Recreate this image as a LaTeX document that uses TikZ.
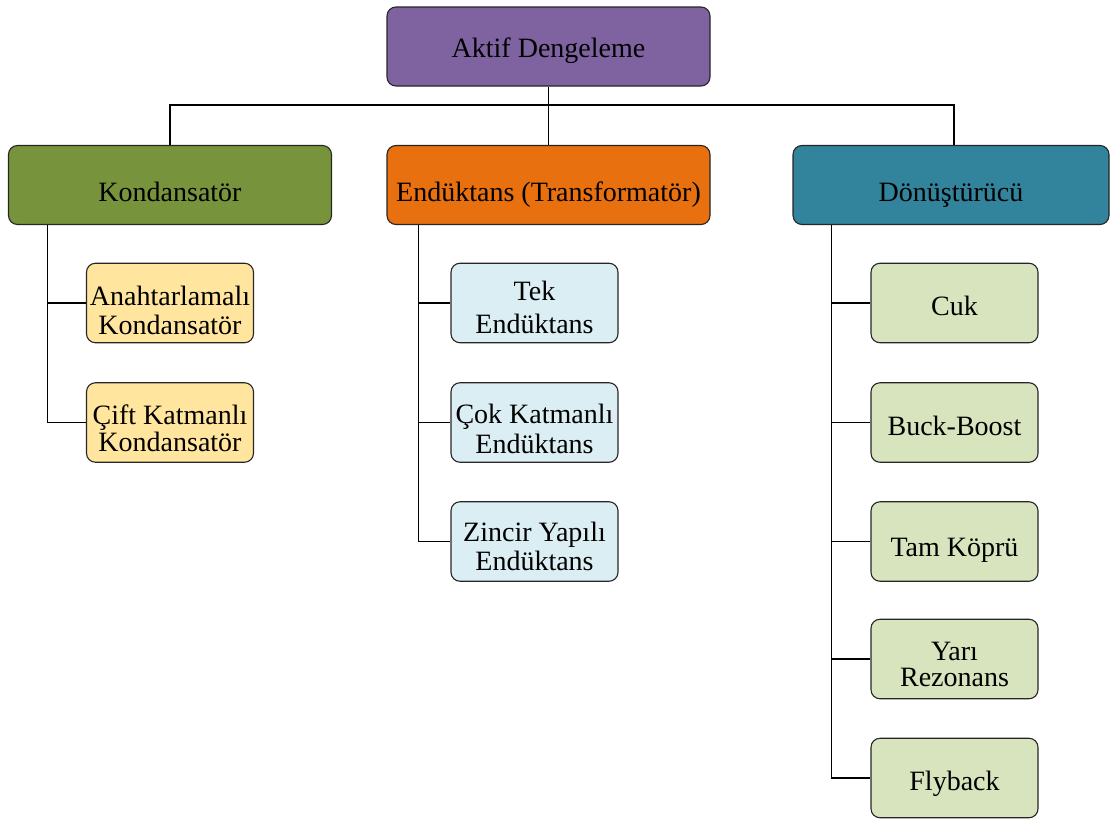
\documentclass[tikz,border=0pt]{standalone}
\usepackage{fontspec}
\setmainfont{Liberation Serif}
\definecolor{cPurple}{HTML}{7F63A0}
\definecolor{cGreen}{HTML}{77933C}
\definecolor{cOrange}{HTML}{E8700E}
\definecolor{cTeal}{HTML}{31849B}
\definecolor{cYellow}{HTML}{FFE59E}
\definecolor{cBlue}{HTML}{DBEEF3}
\definecolor{cLime}{HTML}{D7E4BD}
\definecolor{cEdge}{HTML}{262626}
\tikzset{
  box/.style={draw=cEdge, line width=1.1pt, rounded corners=9pt, inner sep=0pt},
  headbox/.style={box, minimum width=323pt, minimum height=79pt},
  leafbox/.style={box, minimum width=167pt, minimum height=79.5pt},
  txt/.style={inner sep=0pt, align=center, text=black,
    font=\fontsize{28pt}{28pt}\selectfont},
  link/.style={draw=black, line width=1.3pt}
}
\begin{document}
\begin{tikzpicture}[x=1pt, y=-1pt]
\useasboundingbox (0,0) rectangle (1110,819);

% ---- boxes ----
\node[headbox, fill=cPurple] (root) at (548.5,46.5) {};

\node[headbox, fill=cGreen]  (kon) at (170,185)   {};
\node[headbox, fill=cOrange] (end) at (548.5,185) {};
\node[headbox, fill=cTeal, minimum width=316pt] (don) at (951,185) {};

\node[leafbox, fill=cYellow] (k1) at (170,303)   {};
\node[leafbox, fill=cYellow] (k2) at (170,422.5) {};

\node[leafbox, fill=cBlue] (e1) at (534.5,303)   {};
\node[leafbox, fill=cBlue] (e2) at (534.5,422.5) {};
\node[leafbox, fill=cBlue] (e3) at (534.5,541.5) {};

\node[leafbox, fill=cLime] (d1) at (954.5,303)   {};
\node[leafbox, fill=cLime] (d2) at (954.5,422.5) {};
\node[leafbox, fill=cLime] (d3) at (954.5,541.5) {};
\node[leafbox, fill=cLime] (d4) at (954.5,659)   {};
\node[leafbox, fill=cLime] (d5) at (954.5,778)   {};

% ---- labels (single lines sit on their baseline) ----
\node[txt, anchor=base] (root-t) at ([yshift=-10.5pt]root.center) {Aktif Dengeleme};
\node[txt, anchor=base] (kon-t) at ([yshift=-16pt]kon.center) {Kondansatör};
\node[txt, anchor=base] (end-t) at ([yshift=-16pt]end.center) {Endüktans (Transformatör)};
\node[txt, anchor=base] (don-t) at ([yshift=-16pt]don.center) {Dönüştürücü};

\node[txt] (k1-t) at ([yshift=-7pt]k1.center) {Anahtarlamalı\\[1pt]Kondansatör};
\node[txt] (k2-t) at ([yshift=-6pt]k2.center) {Çift Katmanlı\\[-0.6pt]Kondansatör};

\node[txt] (e1-t) at ([yshift=-4.1pt]e1.center) {Tek\\[5pt]Endüktans};
\node[txt] (e2-t) at ([yshift=-6.3pt]e2.center) {Çok Katmanlı\\[2pt]Endüktans};
\node[txt] (e3-t) at ([yshift=-4.8pt]e3.center) {Zincir Yapılı\\[0.3pt]Endüktans};

\node[txt, anchor=base] (d1-t) at ([yshift=-12pt]d1.center) {Cuk};
\node[txt, anchor=base] (d2-t) at ([yshift=-12.5pt]d2.center) {Buck-Boost};
\node[txt, anchor=base] (d3-t) at ([yshift=-15.2pt]d3.center) {Tam Köprü};
\node[txt] (d4-t) at ([yshift=-5.7pt]d4.center) {Yarı\\[-2pt]Rezonans};
\node[txt, anchor=base] (d5-t) at ([yshift=-12pt]d5.center) {Flyback};

% ---- bus under the root ----
\coordinate (bus) at (548.5,105);
\draw[link] (root.south) -- (end.north);
\draw[link] (kon.north) -- (kon.north |- bus) -- ([xshift=3pt]don.north |- bus) -- ([xshift=3pt]don.north);

% ---- branch spines ----
\coordinate (ks) at ([xshift=39.5pt]kon.south west);
\coordinate (es) at ([xshift=32pt]end.south west);
\coordinate (ds) at ([xshift=39pt]don.south west);

\draw[link] (ks) |- (k2.west);
\draw[link] (ks |- k1.west) -- (k1.west);

\draw[link] (es) |- (e3.west);
\draw[link] (es |- e1.west) -- (e1.west);
\draw[link] (es |- e2.west) -- (e2.west);

\draw[link] (ds) |- (d5.west);
\draw[link] (ds |- d1.west) -- (d1.west);
\draw[link] (ds |- d2.west) -- (d2.west);
\draw[link] (ds |- d3.west) -- (d3.west);
\draw[link] (ds |- d4.west) -- (d4.west);
\end{tikzpicture}
\end{document}
